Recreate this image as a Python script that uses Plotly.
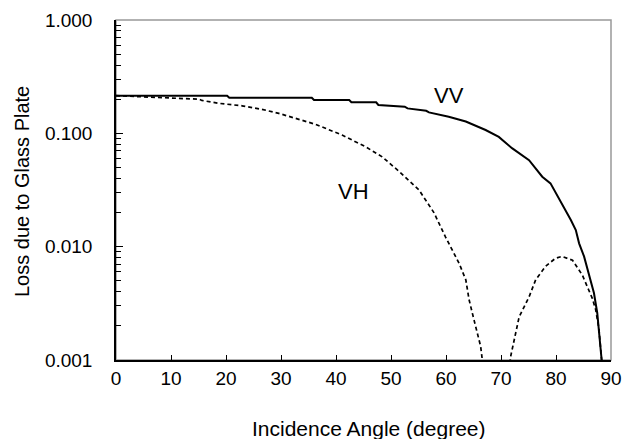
import plotly.graph_objects as go

# Data
vv_angle = [0, 10, 20.2, 20.6, 35.6, 36.0, 42.4, 42.8, 47.3, 47.7, 52.5, 53.0, 56.4, 56.9,
            60.5, 63.6, 67.2, 69.6, 72.0, 75.1, 77.5, 79.0, 80.5, 81.8, 82.7, 83.6, 84.2,
            85.1, 86.0, 86.9, 87.5, 87.8, 88.1, 88.3, 88.8]
vv_loss = [0.215, 0.215, 0.215, 0.206, 0.206, 0.197, 0.197, 0.188, 0.188, 0.178, 0.172, 0.166,
           0.158, 0.153, 0.140, 0.127, 0.107, 0.093, 0.074, 0.058, 0.0414, 0.0362, 0.0267,
           0.0211, 0.0172, 0.0140, 0.0107, 0.0082, 0.0058, 0.0039, 0.0026, 0.0018, 0.0012,
           0.0010, 0.0003]

vh_angle = [0, 4.8, 11.5, 15.1, 15.6, 18.7, 22.9, 26.5, 29.6, 35.1, 36.3, 41.1, 45.4, 48.4,
            51.5, 55.1, 57.8, 59.9, 62.4, 63.6, 64.2, 65.1, 65.7, 66.3, 66.5, 69.0,
            71.8, 72.4, 73.0, 73.3, 75.1, 76.3, 78.1, 79.9, 81.1, 83.0, 84.8, 86.0, 86.6,
            87.2, 87.8, 88.3]
vh_loss = [0.215, 0.211, 0.204, 0.200, 0.195, 0.184, 0.175, 0.163, 0.150, 0.124, 0.120,
           0.0966, 0.076, 0.062, 0.046, 0.0316, 0.020, 0.0122, 0.0071, 0.0051, 0.0034,
           0.00225, 0.00172, 0.00132, 0.0011, 0.0001,
           0.0011, 0.0015, 0.00197, 0.0024, 0.0036, 0.0051, 0.0067, 0.0079, 0.0082,
           0.0076, 0.0056, 0.0041, 0.0035, 0.0028, 0.0019, 0.0010]

x_ticks = [0, 10, 20, 30, 40, 50, 60, 70, 80, 90]
y_ticks = [0.001, 0.01, 0.1, 1.0]
y_tick_text = ["0.001", "0.010", "0.100", "1.000"]
y_minor = [m * 10.0 ** e for e in (-3, -2, -1) for m in range(2, 10)]

FONT = "Liberation Sans, Arial, sans-serif"

fig = go.Figure()
fig.add_trace(go.Scatter(x=vv_angle, y=vv_loss, mode="lines", name="VV",
                         line=dict(color="black", width=2)))
fig.add_trace(go.Scatter(x=vh_angle, y=vh_loss, mode="lines", name="VH",
                         line=dict(color="black", width=1.7, dash="4px,3px")))

fig.update_layout(
    width=622, height=439,
    margin=dict(l=116, r=11, t=20, b=79, autoexpand=False),
    paper_bgcolor="white", plot_bgcolor="white",
    showlegend=False,
    font=dict(family=FONT, color="black"),
    xaxis=dict(range=[0, 90], tickvals=x_ticks, ticks="inside", ticklen=5,
               tickcolor="black", tickwidth=1.2, showgrid=False, zeroline=False,
               showline=True, linecolor="black", linewidth=1.5, automargin=False,
               tickfont=dict(family=FONT, size=19, color="black")),
    yaxis=dict(type="log", range=[-3, 0], tickvals=y_ticks, ticktext=y_tick_text,
               ticks="inside", ticklen=7, tickcolor="black", tickwidth=1.2,
               minor=dict(tickvals=y_minor, ticks="inside", ticklen=5,
                          tickcolor="black", tickwidth=1.2),
               showgrid=False, zeroline=False, showline=True, linecolor="black",
               linewidth=1.5, ticklabelstandoff=18, automargin=False,
               tickfont=dict(family=FONT, size=19, color="black")),
    shapes=[dict(type="rect", xref="paper", yref="paper", x0=0, y0=0, x1=1, y1=1,
                 line=dict(color="#999999", width=1.5), layer="below")],
    annotations=[
        dict(text="VV", x=60.5, y=-0.662, xref="x", yref="y", showarrow=False,
             xanchor="center", yanchor="middle",
             font=dict(family=FONT, size=22, color="black")),
        dict(text="VH", x=43.1, y=-1.509, xref="x", yref="y", showarrow=False,
             xanchor="center", yanchor="middle",
             font=dict(family=FONT, size=22, color="black")),
        dict(text="Incidence Angle (degree)", x=(369 - 116) / 495, y=(360 - 428) / 340,
             xref="paper", yref="paper", showarrow=False,
             xanchor="center", yanchor="middle",
             font=dict(family=FONT, size=21, color="black")),
        dict(text="Loss due to Glass Plate", x=(22 - 116) / 495, y=(360 - 192) / 340,
             xref="paper", yref="paper", showarrow=False, textangle=-90,
             xanchor="center", yanchor="middle",
             font=dict(family=FONT, size=20, color="black")),
    ],
)

fig.write_html(
    "out.html",
    config={"displayModeBar": False},
    post_script="document.body.style.margin='0px';"
                "document.documentElement.style.overflow='hidden';",
)
